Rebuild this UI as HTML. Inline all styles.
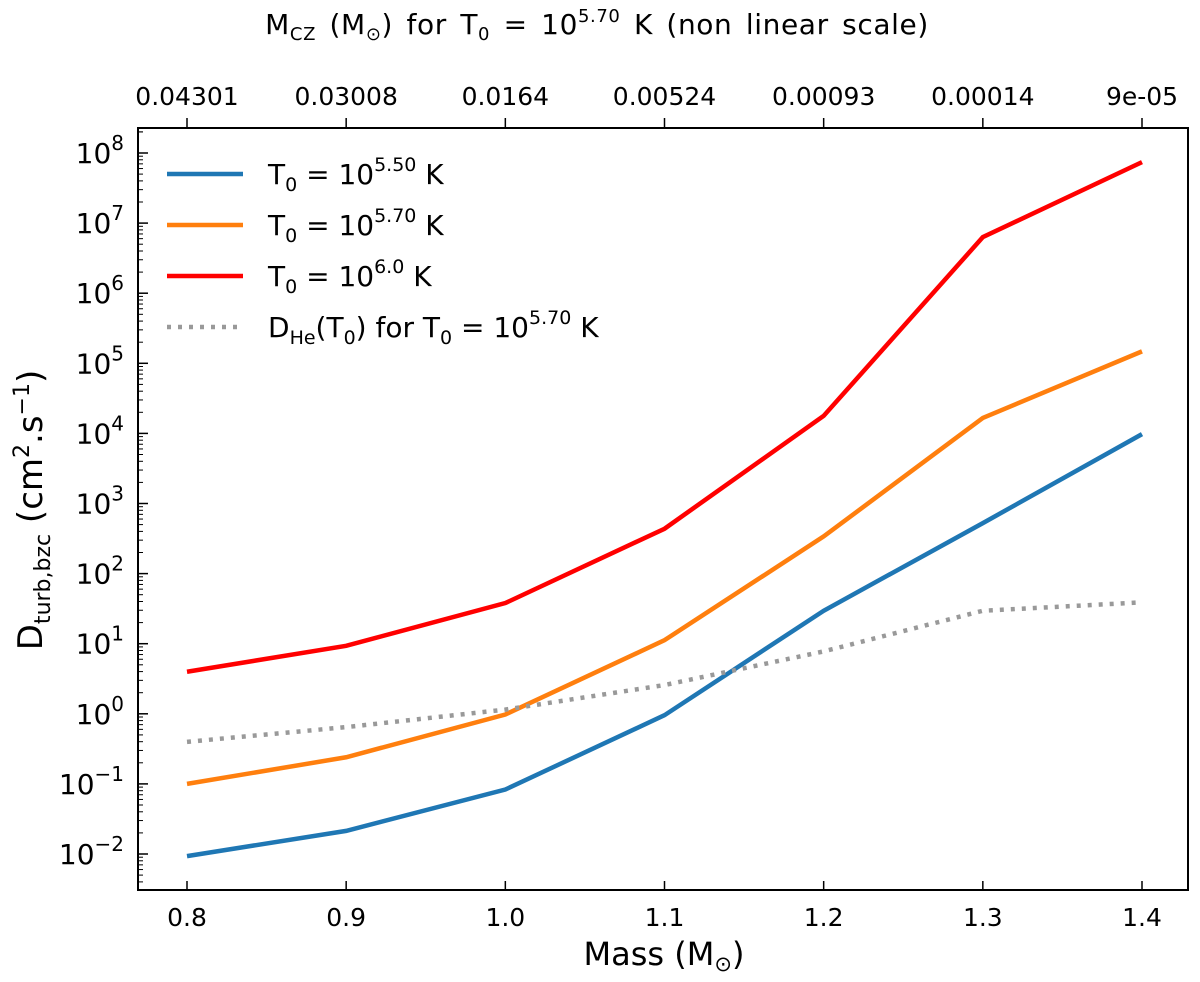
<!DOCTYPE html>
<html><head><meta charset="utf-8"><style>
body{margin:0;background:#fff;}
svg{display:block;font-family:"DejaVu Sans","Liberation Sans",sans-serif;}
</style></head><body>
<svg id="chart" width="1200" height="982" viewBox="0 0 1200 982">
<g id="marks"></g>
<g id="axes"></g>
</svg>
<script>
const masses=[0.8,0.9,1.0,1.1,1.2,1.3,1.4];
const topLabels=["0.04301","0.03008","0.0164","0.00524","0.00093","0.00014","9e-05"];
const blueLog=[-2.03,-1.67,-1.08,-0.02,1.47,2.72,3.99];
const orangeLog=[-1.0,-0.62,-0.01,1.05,2.53,4.22,5.17];
const redLog=[0.6,0.97,1.58,2.64,4.25,6.8,7.87];
const grayLog=[-0.4,-0.19,0.06,0.41,0.89,1.47,1.59];
const yDecades=[-2,-1,0,1,2,3,4,5,6,7,8];
const NS="http://www.w3.org/2000/svg";
const L=138,R=1188,T=128,B=890;
function X(m){return 187+(m-0.8)/0.6*(1142-187);}
function Y(v){return 854-(v+2)*70.1;}
function mk(tag,attrs,parent){const e=document.createElementNS(NS,tag);for(const k in attrs)e.setAttribute(k,attrs[k]);parent.appendChild(e);return e;}
const marks=document.getElementById('marks'),axes=document.getElementById('axes');
const series=[[blueLog,'#1f77b4','',"blue"],[orangeLog,'#ff7f0e','',"orange"],[redLog,'#ff0000','',"red"],[grayLog,'#999999','4 7',"gray-dhe"]];
series.forEach(s=>{
 const p=mk('polyline',{points:masses.map((m,i)=>X(m)+','+Y(s[0][i])).join(' '),fill:'none',stroke:s[1],'stroke-width':4.5,'stroke-dasharray':s[2]},marks);
 
 
});
const fr=mk('rect',{x:L,y:T,width:R-L,height:B-T,fill:'none',stroke:'#000','stroke-width':2},axes);

masses.forEach((m,i)=>{
 const x=X(m);
 mk('line',{x1:x,x2:x,y1:B,y2:B-9,stroke:'#000','stroke-width':1.5},axes);
 const t=mk('text',{x:x,y:B+36,'text-anchor':'middle','font-size':25},axes);t.textContent=m.toFixed(1);
 
 mk('line',{x1:x,x2:x,y1:T,y2:T-10,stroke:'#000','stroke-width':1.5},axes);
 const u=mk('text',{x:x,y:T-23,'text-anchor':'middle','font-size':25},axes);u.textContent=topLabels[i];
 
});
yDecades.forEach(d=>{
 const y=Y(d);
 mk('line',{x1:L,x2:L+10,y1:y,y2:y,stroke:'#000','stroke-width':1.5},axes);
 const t=mk('text',{x:L-14,y:y+10,'text-anchor':'end','font-size':28},axes);
 
 t.innerHTML='10<tspan dy="-13" font-size="20">'+(d<0?'\u2212'+(-d):d)+'</tspan>';
 for(let k=2;k<10;k++){const yy=Y(d+Math.log10(k));if(yy>T&&yy<B)mk('line',{x1:L,x2:L+5,y1:yy,y2:yy,stroke:'#000','stroke-width':1},axes);}
 if(d===-2)for(let k=2;k<10;k++){const yy=Y(-3+Math.log10(k));if(yy>T&&yy<B)mk('line',{x1:L,x2:L+5,y1:yy,y2:yy,stroke:'#000','stroke-width':1},axes);}
});
for(let k=2;k<10;k++){const yy=Y(8+Math.log10(k));if(yy>T&&yy<B)mk('line',{x1:L,x2:L+5,y1:yy,y2:yy,stroke:'#000','stroke-width':1},axes);}
</script>
<svg width="1200" height="982" style="position:absolute;left:0;top:0">
<text x="664" y="965" text-anchor="middle" font-size="32" font-family="DejaVu Sans,sans-serif">Mass (M<tspan font-size="21" dy="6">⊙</tspan><tspan dy="-6">)</tspan></text>
<text x="597" y="34" text-anchor="middle" font-size="28" word-spacing="4" letter-spacing="0.6" font-family="DejaVu Sans,sans-serif">M<tspan font-size="18" dy="6">CZ</tspan><tspan dy="-6"> (M</tspan><tspan font-size="18" dy="6">⊙</tspan><tspan dy="-6">) for T</tspan><tspan font-size="18" dy="6">0</tspan><tspan dy="-6"> = 10</tspan><tspan font-size="18" dy="-12">5.70</tspan><tspan dy="12"> K (non linear scale)</tspan></text>
<text transform="translate(42,510) rotate(-90)" text-anchor="middle" font-size="34" font-family="DejaVu Sans,sans-serif">D<tspan font-size="22" dy="8">turb,bzc</tspan><tspan dy="-8"> (cm</tspan><tspan font-size="22" dy="-13">2</tspan><tspan dy="13">.s</tspan><tspan font-size="22" dy="-13">−1</tspan><tspan dy="13">)</tspan></text>
<g font-size="28" font-family="DejaVu Sans,sans-serif">
<g><line x1="167" x2="243" y1="174" y2="174" stroke="#1f77b4" stroke-width="4.5"/><text x="268" y="184">T<tspan font-size="19" dy="7">0</tspan><tspan dy="-7"> = 10</tspan><tspan font-size="19" dy="-13">5.50</tspan><tspan dy="13"> K</tspan></text></g>
<g><line x1="167" x2="243" y1="225" y2="225" stroke="#ff7f0e" stroke-width="4.5"/><text x="268" y="235">T<tspan font-size="19" dy="7">0</tspan><tspan dy="-7"> = 10</tspan><tspan font-size="19" dy="-13">5.70</tspan><tspan dy="13"> K</tspan></text></g>
<g><line x1="167" x2="243" y1="276" y2="276" stroke="#ff0000" stroke-width="4.5"/><text x="268" y="286">T<tspan font-size="19" dy="7">0</tspan><tspan dy="-7"> = 10</tspan><tspan font-size="19" dy="-13">6.0</tspan><tspan dy="13"> K</tspan></text></g>
<g><line x1="167" x2="243" y1="327" y2="327" stroke="#999" stroke-width="4.5" stroke-dasharray="4 7"/><text x="268" y="337">D<tspan font-size="19" dy="7">He</tspan><tspan dy="-7">(T</tspan><tspan font-size="19" dy="7">0</tspan><tspan dy="-7">) for T</tspan><tspan font-size="19" dy="7">0</tspan><tspan dy="-7"> = 10</tspan><tspan font-size="19" dy="-13">5.70</tspan><tspan dy="13"> K</tspan></text></g>
</g>
</svg>
</body></html>
